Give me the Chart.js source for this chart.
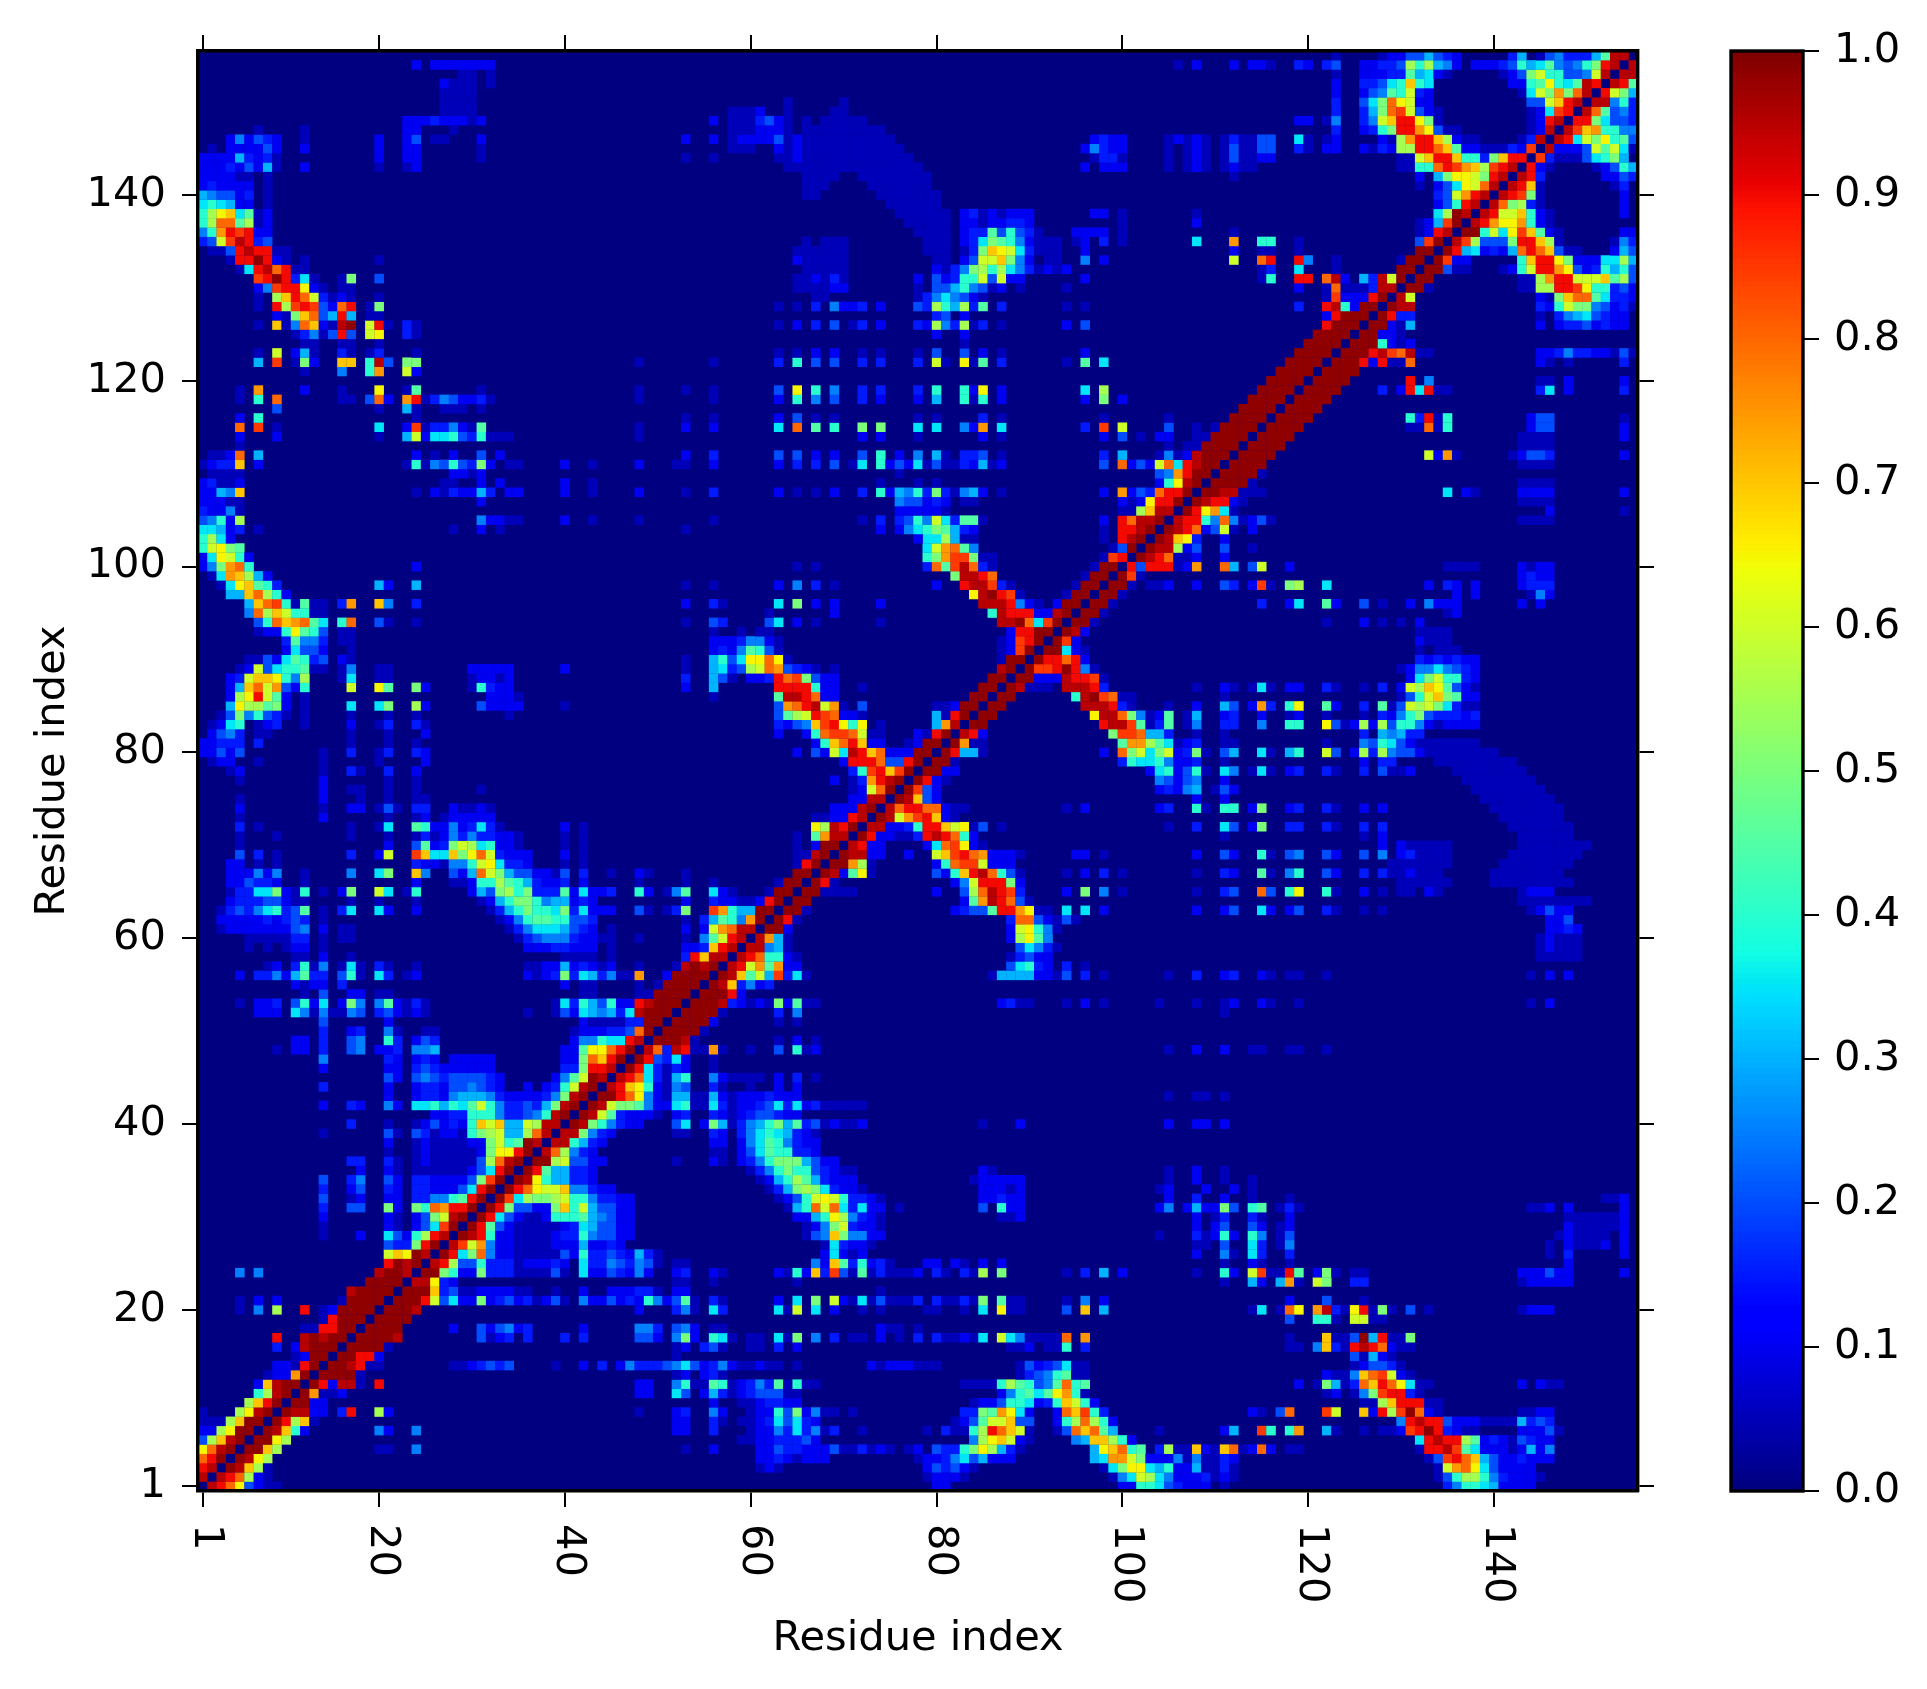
<!DOCTYPE html>
<html><head><meta charset="utf-8">
<style>html,body{margin:0;padding:0;background:#fff;width:1927px;height:1689px;overflow:hidden}
canvas{position:absolute;top:0}#m{left:0}#c{left:1700px}</style>
<script src="https://cdn.jsdelivr.net/npm/chart.js@4"></script></head>
<body><canvas id="m" width="1927" height="1689"></canvas><canvas id="c" width="227" height="1689"></canvas>
<script>
const axisLabel="Residue index";
const residueTicks=[1,20,40,60,80,100,120,140];
const residueCount=155;
const colorTicks=[0,0.1,0.2,0.3,0.4,0.5,0.6,0.7,0.8,0.9,1];
// value codes: digits = tenths, a..j = 0.05,0.15..0.95, A = 0.98, '.' = background. Each entry: [row, first column, codes]
const valueCodes={a:.05,b:.15,c:.25,d:.35,e:.45,f:.55,g:.65,h:.75,i:.85,j:.95,A:.985};
const hazeRows=[[81,132,"aaaaaaa"],[80,133,"aaaaaaaa"],[79,134,"aaaaaaaaa"],[78,136,"aaaaaaaa"],[77,137,"aaaaaaaa"],[76,138,"aaaaaaaa"],[75,139,"aaaaaaaa"],[74,140,"aaaaaaaa"],[73,141,"aaaaaaa"],[72,142,"aaaaaaa"],[71,143,"aaaaaa"],[70,130,"aaaaaa.......aaaaaaaa"],[69,130,"aaaaaa......aaaaaaaa"],[68,129,"aaaaaaa.....aaaaaaaa"],[67,128,"aaaaaaa.....aaaaaaaa"],[66,130,"aaaaaa....aaaaaaaaa"],[64,143,"aaaaaaaa"],[60,145,"a1aaa"],[59,145,"a1aaa"],[58,145,"aaaaa"],[66,84,"...."],
[92,132,"1aaa"],[93,132,"aaaa"],[105,143,"aaaa"],[107,143,"aaaa"],[109,143,"aaaa"],[111,143,"aaaa"],[113,143,"aaaa"],[114,143,"aaaa"]];
const bandRows=[[1,2,"j98g21aa"],[2,3,"j98f1a"],[3,4,"Aj7fa"],[4,5,"Ajgf"],[5,6,"AA7f"],[6,7,"AAgf"],[7,8,"Aj741"],[8,9,"A9f7a"],[9,10,"Ajj11.b9..f1"],[10,11,"AA11"],[11,12,"Ahaa1"],[12,13,"A91jja.9"],[13,14,"AAAAa"],[14,15,"AAj9aa"],[15,16,"AA991"],[16,17,"AAAAa"],[17,18,"AAAAj"],[18,19,"AAAA"],[18,28,"1..212c1b"],[18,42,"1"],[18,48,"ccb.2"],[19,20,"AAAA"],[20,21,"AAAj"],[20,48,"1"],[20,52,"1"],
[21,22,"AAA962d1151b21ba12a.c1121b14c1a2"],[22,23,"AAA7b2aa1111aa..a..1..111bba.1"],[23,24,"jjgb1"],[24,25,"AA54115bbbaaaa2a.d112b1c1..1"],[25,26,"j9f224bbba111b1.dbbc2bc2a.1"],[26,27,"A9d58c11aaaaa214bb2b13ba"],[27,28,"ji6hc11aaaa111311b1"],[28,29,"Aj9411aaaa1bb4c2211"],[29,30,"A9e21aaaaa1bd32211"],[30,31,"A9d21aa1444e3c211"],[31,32,"A952211574632211"],[32,33,"Aidf55f644cbb11"],[33,34,"A98g667ccb11"],[34,35,"Ajg433bb1"],[35,36,"A9e33bb1"],[36,37,"AAf62211"],[37,38,"j8fcb1"],[38,39,"jj43b1"],[39,40,"jj5cb1"],[40,41,"Aj54cb11"],[41,42,"Aj6eb111a.a"],[42,43,"Aj655ec11d"],[43,44,"AA98gc1a2"],[44,45,"j97g41a2"],[45,46,"j98dba3"],[46,47,"A9dba1"],[47,48,"A92bd"],[48,49,"j8bj"],[49,50,"AAA"],[50,51,"AAAA"],[51,52,"AAAA"],[52,53,"AAAA"],
[5,20,"aa..b"],[7,20,"c1..c"],[5,24,"c"],[7,24,"c"],[9,48,"a...1"],[11,48,"11...3"],[12,48,"11...c"],[14,28,"aa1b2b2"],[14,39,"a..1.b.1cbbb22ba3"],[17,31,"2a1b.b"],[17,40,"b.b.....221.c"]];
const midLowRows=[[1,80,"11"],[1,100,"1144d"],[2,79,"a111a"],[2,99,"acd6fd"],[3,61,"a1a"],[3,79,"12b21a"],[3,98,"ad5ggd3"],[4,61,"11b1a111"],[4,78,"a11bcd23111"],[4,97,"3dhh6511"],[5,53,"a..1"],[5,61,"112bb1112aaba1a.a1"],[5,80,"2bb45gf3ba"],[5,97,"3g784e"],[6,59,"aa11bbb21"],[6,84,"cfg761a"],[6,95,"c377f41"],[7,52,"11..b...a11cbdbcab"],[7,72,"a"],[7,79,"a.baa4f9876a"],[7,93,"a2878e3"],[8,52,"11..ba.aa1bd2db1"],[8,82,"a12e66722"],[8,93,"14f8f41"],[9,52,"1b..c1..a114251caa.a"],[9,83,"bb5ehgd1"],[9,93,"187i4b"],[10,56,"1..aa1bb11"],[10,84,"a11244d1b47641"],[11,52,"d2.13ba1b222aa"],[11,87,"1c4edegh4a"],[12,52,"c4aae4a1bcbea4aa"],[12,83,"aaaa4fe42ce84e"],[13,52,"a1.1ba"],[13,89,"ab2c4eaa"],[14,52,"cd21bc1aa1aa.a"],[14,73,"1a111aaa"],[14,89,"a21b2daa"],[15,52,"a"],[16,52,"a1.b2a"],[16,60,"aa.b.1"],[16,88,"aa1.aa4.b"],
[17,52,"c51.4da.aa.da5.c.b.aa.1.a.b.baa1ad.6dcaaaa8.h"],[18,52,"2c1.aa"],[18,74,"1aa.a"],[20,52,"bca.db"],[20,63,"da6.d.1"],[20,72,"a.a"],[20,79,"aa..a.d.gaa"],[20,94,"2.7.3"],[21,52,"2ea.ba"],[21,63,"1.d.5.61ada2aaab.baaba5.eaa"],[21,94,"a.c.1"],[22,52,"11"],[22,74,"a"],[23,52,"aa..a"],[23,65,"a"],[24,52,"1b..1a"],[24,63,"1a417bi2aeabaaa1.ba.baf.5"],[24,94,"a.b.3.1"],[25,52,"aa"],[25,67,"c17eb41ba"],[25,79,"11.1a.1.1"],[26,68,"1d1a1"],[27,68,"adb11a"],[28,66,"a2c75cc11"],[29,66,"a1c56b11a"],[30,65,"1134gfcb1a"],[30,87,"aa1"],[31,64,"a34868dbd11.a"],[31,85,"2.411"],[32,63,"a1246g64bb1a"],[32,85,"11b11"],[33,62,"ab35f5db11a"],[33,85,"111a1"],[34,61,"a134fe3b111"],[34,84,"a11111"],[35,60,"abc45442b1aa"],[35,85,"1a"],[36,52,"a...1a.1bc45553211"],[37,56,"aa.12de44bb1"],[38,56,"11.1cde4cb11"],[39,52,"aa..b1.bcd4d3b1a"],[40,52,"2d.153abc3453eb2a1aa1"],[40,85,"a...1"],[41,52,"1b..b1a1b22b11"],[42,52,"d4aadba11b2dbd1baaaaa"],[43,52,"33aa31a111b111"],[44,52,"c2..ba..a..1.1"],[45,52,"34..c1aaaa.1.b.a"],[46,52,"b1..a"],[47,52,"d1..a"],[48,52,"j9aaha..a..2.4a1"],[49,53,"ja"],[49,63,"a.1.a"],[50,55,"a"],[51,56,"1"],[51,63,"a.a"],[52,57,"a"],[52,63,"b.c"],[53,54,"AAAjb1a1a51eaa"],[53,87,"1baa"],[53,94,"a.1.a"]];
const farLowRows=[[1,105,"2b111"],[1,111,"a"],[1,135,"bc44d31111"],[2,105,"c111ba1a"],[2,134,"a24ff4cb111a"],[3,105,"4113aaba"],[3,134,"a6h8gd21111"],[4,105,"1cacaab1"],[4,133,"a2i9873211b111"],[5,104,"bfaa71a78a181.aa"],[5,132,"a99jied111a131c"],[6,132,"d9j99fe1b1a2b11"],[7,104,"a"],[7,111,"13"],[7,115,"i4.4h"],[7,122,"3a"],[7,126,"a.aa1"],[7,131,"i9A9b1aa"],[7,143,"1112a"],[8,130,"c9j992111aaaa3b2b"],[9,114,"1a.28"],[9,122,"i6..719fiA81a"],[9,143,"aa11"],[10,126,"aaf7999aa"],[11,122,"a1.ac5i99ba"],[12,119,"1.a53ab8798gdaa"],[12,143,"1.1aa"],[13,122,"1aac78i61a"],[14,125,"a122ba"],[15,125,"2a31a"],[16,118,"aa"],[16,121,"c7ba9j981aa"],[17,118,"a"],[17,122,"7aa2A39aa5"],[19,118,"2"],[19,121,"44a"],[19,125,"66aa"],[20,114,"ad.a8g.hjbag9a5a.2.a"],[20,143,"a111"],[21,118,"1"],[21,122,"2"],[21,126,"a"],[23,111,"a"],[23,114,"31.3ha.65..bb"],[23,143,"a11111"],[24,108,"a"],[24,111,"41.6iaa9e.15a.aa"],[24,143,"111211"],[24,154,"1"],[25,111,"a..1a..a"],[25,148,"1"],[26,108,"1..ca.db..b"],[26,146,"a.b"],[26,154,"1"],[27,108,"aa.2..db.ac"],[27,146,"a.1aaa1.1"],[28,104,"a...ba141.4c.a2"],[28,147,"a1aaaa.1"],[29,108,"1.12..21.a1"],[29,148,"1aaaaa1"],[30,108,"1.ab..ba..1"],[30,148,"aaaaaa1"],[31,104,"1c.131152.4e.aba"],[31,144,"aa1.1"],[31,154,"1"],[32,105,"1..b..1"],[32,114,"a"],[32,118,"a"],[32,152,"aa1"],[33,104,"a1...1..1"],[33,114,"a"],[34,105,"a..1..a..a"],[35,105,"a..1..a"],[40,105,"1..11.1"],[43,105,"a..aa.a"],[48,105,"a..1..1..aa"],[48,118,"aa"],[48,122,"a"],[52,111,"a"]];
const ridgeRows=[[54,55,"AAA91"],[55,56,"Aj7bc1b"],[56,57,"Aj7e63ibda"],[56,86,"a333311a2.b.a"],[57,58,"j96heh11"],[57,88,"2d4b1"],[57,94,"b.a"],[58,59,"j98441a"],[58,88,"ab211"],[59,60,"jjc3a"],[59,89,"2dcba"],[60,61,"jh3a"],[60,88,"1fgec"],[61,62,"AA1"],[61,88,"16g4ca"],[62,63,"A9a"],[62,88,"b8821a2a"],[63,64,"AAa"],[63,82,"1b22e99hgaa"],[63,94,"d.d.1"],[64,65,"AA"],[64,83,"1ehj982a"],[65,66,"AAaaaa"],[65,80,"1..2f8j9ib"],[65,94,"1.5.c.a"],[66,67,"A9a"],[66,82,"1c699951"],[67,68,"Aj1ega"],[67,80,"21479j842a"],[67,94,"a.1.b.a"],[68,69,"AAhfa"],[68,80,"148ii6111"],[69,70,"Ajj11"],[69,77,"1"],[69,80,"67i98h111a"],[69,95,"11.a"],[70,71,"j911"],[70,79,"1d8ig1a"],[71,72,"A911aab"],[71,79,"9j9841"],[72,73,"jj11b4"],[72,79,"9976ga2"],[72,87,"a"],[73,74,"Aj6hi971a"],[74,75,"j899881aa"],[74,94,"a.1"],[75,76,"Aj721"],[76,77,"Ai21"],[77,78,"A91a"],[78,79,"AA11"],[79,80,"AAa"],[79,100,"b4de"],[80,81,"A933a"],[80,98,"1.856d5"],[81,82,"Ahaa"],[81,100,"ehh6e"],[82,83,"j91"],[82,99,"5ii8dc"],[83,84,"AA"],[83,98,"9jjie1b"],[84,85,"AA"],[84,97,"gjj85ca1"],[85,86,"AA"],[85,96,"jjj9ba"],[86,87,"AA"],[86,95,"4jAi8aa"],[87,88,"Aj"],[87,90,"aaa"],[87,94,"jjj9b"],[88,89,"AA111"],[88,94,"j99ia"],[89,90,"Aii9A9ca"],[90,91,"A99891"],[91,92,"AAd1a"],[92,93,"Ai1"],[93,94,"Aj1"],[94,95,"AAa"],[95,96,"AAa"],[96,97,"AAa"],[97,98,"AAa"],[98,99,"AAa"],[99,100,"Aia"],[100,101,"929"],[101,102,"Aj"],[102,103,"A"]];
const farMidRows=[[53,104,"a...a..a1..1a..a"],[53,144,"a.1"],[56,105,"a..b..1b..1a.aa..a"],[56,144,"a.1.1"],[61,146,"11b1"],[62,146,"112"],[63,108,"1..12..d1.12..ba"],[63,126,"a.a"],[63,144,"a1211"],[65,108,"a..b2..82.4g..4a"],[65,126,"1.a"],[65,130,"aa.1a"],[65,143,"a111"],[67,108,"a..b1..ea.c4..21"],[67,126,"b.b.a1"],[69,108,"1..21..4a.2c..21"],[69,126,"2.c.1b"],[70,128,"1.1"],[71,111,"a"],[71,126,"a.1"],[72,105,"a..b..d2.15..bb..ba"],[72,126,"b.b"],[74,104,"1b..4a.44.15..1b..ba"],[74,126,"1.1"],[75,108,"1..1"],[76,104,"1b1c3.a21"],[77,104,"c212c..1"],[78,103,"1d4124a.dc.ada.1b..ba"],[78,126,"b.2aa1"],[79,103,"d4c11b..a"],[79,126,"1.bb"],[80,103,"d561b5a.23..da.34..62.1fbfc221"],[81,103,"feda1b..aa"],[81,122,"a"],[81,126,"c24d21a"],[82,103,"33b..a..a"],[82,126,"b.3c3bb"],[83,103,"abe.ac..bb..c..44..g2a1f1f244c1a1111"],[84,103,"a1e.a3..1b..1..a1..a"],[84,126,"a.b1c452bbb1b"],[85,105,"a..1..32.1hb.4g..e1..b.ea26f65dbaa"],[86,111,"a"],[86,130,"a24675e11"],[87,108,"a..1a.ada.11..ba..a.b.16f7ge21a"],[88,131,"1d5644b1"],[89,130,"a1ccdc2b1"],[90,132,"b1b1b11"],[91,132,"a.aaa"],[92,132,"1"],[94,122,"a"],[94,126,"1.a.a.1"],[95,135,"a1"],[96,115,"b..1d..e1..2.a..1.c111"],[96,143,"1.1"],[97,136,"1.1"],[97,144,"ac1"],[98,103,"aa1..1..2b.1ia.5f..d"],[98,133,"1.b1.1"],[98,143,"1bbb"],[99,143,"1b11"],[100,104,"99a1h..83.26..1"],[100,135,"aaaa"],[100,143,"1a11"],[101,103,"j98aa1..1"],[102,103,"Ajjf12..2..a"],[103,104,"Aj7gb..1"],[104,105,"Aj98126a.1"]];
const topRows=[[105,106,"j994c8ca12a"],[106,107,"A9ghda"],[107,108,"Aj991a"],[108,109,"AAjjaaa"],[108,135,"d.1a"],[108,143,"1111"],[109,110,"AAAAa"],[110,111,"AAAAa"],[111,112,"AAAA"],[112,113,"AAAA"],[112,133,"61ha"],[112,142,"a122"],[113,114,"AAAA"],[114,115,"AAAA"],[115,116,"AAAA"],[115,131,"aa8a4"],[115,144,"12"],[116,117,"AAAA"],[116,131,"4b9a4"],[116,144,"12"],[117,118,"AAAA"],[118,119,"AAAA"],[119,120,"AAAA"],[119,128,"b.19d9aa"],[119,145,"bd.1"],[119,154,"b"],[120,121,"AAAA"],[120,131,"9.c"],[120,145,"aa.1"],[120,154,"1"],[121,122,"AAAA"],[122,123,"AAA919aa8"],[122,145,"1a.a"],[122,154,"b"],[123,124,"AAA9ji8jaa"],[123,145,"11bcbb11a2a"],[124,125,"AAA41a1"],[125,126,"AA11a"],[126,127,"AA1a3"],[126,145,"1.1bb21b11"],[127,128,"A9bb"],[127,145,"a.bc3d2b11"],[128,129,"Ajj"],[128,145,"b14655c21ba"],[129,130,"j6"],[129,145,"1a5788edbb1"],[130,131,"AAa"],[130,143,"aaff99ig44b21"],[131,132,"AA"],[131,143,"aafh996667ef2"],[132,133,"AA2aa"],[132,141,"a14699hg21b4342"],[133,134,"Ai11"],[133,143,"4799g5111ddf3"],[134,135,"A93d1b1389872aa...132"],[135,136,"jif2225997fa"],[135,153,"acb"],[136,137,"AA46dgi7e1a"],[136,154,"11"],[137,138,"j9hggh41a"],[138,139,"j966741a"],[138,154,"1"],[139,140,"j85fba"],[139,154,"1"],[140,141,"j9i5a"],[140,154,"1"],[141,142,"j97a"],[141,153,"ab"],[142,143,"j9b"],[142,152,"112b"],[143,144,"91a"],[143,151,"a1243"],[144,145,"ibaaa2d453"],[145,146,"j11126e6da"],[146,147,"j9d65g4e2"],[147,148,"ji7h44cc"],[148,149,"995d22b"],[149,150,"j8e2cb"],[150,151,"jjc4b"],[151,152,"9653"],[152,153,"j9e"],[153,154,"jj"],[154,155,"j"],[106,146,"1"],[108,146,"1"],[112,146,"b"],[115,146,"2"],[116,146,"2"],[106,154,"a"],[108,154,"1"],[112,154,"1"],[114,154,"1"],[115,154,"1"],[116,154,"a"]];

function lerp(stops,v){for(let i=1;i<stops.length;i++){if(v<=stops[i][0]){const a=stops[i-1],b=stops[i];return a[1]+(b[1]-a[1])*(v-a[0])/(b[0]-a[0]);}}return stops[stops.length-1][1];}
const jetR=[[0,0],[.35,0],[.66,1],[.89,1],[1,.5]],jetG=[[0,0],[.125,0],[.375,1],[.64,1],[.91,0],[1,0]],jetB=[[0,.5],[.11,1],[.34,1],[.65,0],[1,0]];
function jet(v){return `rgb(${Math.round(255*lerp(jetR,v))},${Math.round(255*lerp(jetG,v))},${Math.round(255*lerp(jetB,v))})`;}

const cells=new Map();
function put(r,c,v){cells.set(r+"_"+c,{x:c,y:r,v});cells.set(c+"_"+r,{x:r,y:c,v});}
[hazeRows,bandRows,midLowRows,farLowRows,ridgeRows,farMidRows,topRows].forEach(list=>list.forEach(([row,col,codes])=>{
  [...codes].forEach((ch,k)=>{if(ch==='.')return;const v=ch in valueCodes?valueCodes[ch]:Number(ch)/10;if(col+k<=residueCount)put(row,col+k,v);});
}));
const points=[...cells.values()];
const FONT='"DejaVu Sans"';
const FS=41.6;
const frame={display:true,width:3.4,color:'#000',z:2};
const tickGrid={drawOnChartArea:false,drawTicks:true,tickLength:16,tickWidth:2,tickColor:'#000',color:'#000',lineWidth:2};
const setTicks=s=>{s.ticks=residueTicks.map(v=>({value:v,label:String(v)}));};
const rotatedLabels={id:'rotatedLabels',afterDraw(ch){const c=ch.ctx,s=ch.scales.x;c.save();c.fillStyle='#000';c.font=FS+'px '+FONT;c.textAlign='left';c.textBaseline='middle';
  residueTicks.forEach(v=>{c.save();c.translate(s.getPixelForValue(v)+3,1524);c.rotate(Math.PI/2);c.fillText(String(v),0,0);c.restore();});c.restore();}};
const navy={id:'navy',beforeDatasetsDraw(ch){const a=ch.chartArea,c=ch.ctx;c.save();c.fillStyle=jet(0);c.fillRect(a.left,a.top,a.right-a.left,a.bottom-a.top);c.restore();}};
new Chart(document.getElementById('m'),{type:'scatter',plugins:[navy,rotatedLabels],
 data:{datasets:[{data:points,parsing:false,normalized:false,pointStyle:'rect',pointRadius:6.75,pointHoverRadius:6.75,pointBorderWidth:0,backgroundColor:points.map(p=>jet(p.v)),pointBackgroundColor:points.map(p=>jet(p.v)),showLine:false}]},
 options:{responsive:false,animation:false,devicePixelRatio:1,events:[],layout:{padding:0},plugins:{legend:{display:false},tooltip:{enabled:false},title:{display:false}},
  scales:{
   x:{type:'linear',position:'bottom',min:.5,max:155.5,afterBuildTicks:setTicks,afterFit:s=>{s.height=198;},grid:tickGrid,border:frame,ticks:{display:false},title:{display:true,text:axisLabel,color:'#000',font:{family:FONT,size:FS},padding:{top:0,bottom:25}}},
   x2:{type:'linear',position:'top',min:.5,max:155.5,afterBuildTicks:setTicks,afterFit:s=>{s.height=51;},grid:tickGrid,border:frame,ticks:{display:false}},
   y:{type:'linear',position:'left',min:.5,max:155.5,afterBuildTicks:setTicks,afterFit:s=>{s.width=198;},grid:tickGrid,border:frame,ticks:{color:'#000',autoSkip:false,font:{family:FONT,size:FS},padding:16,callback:v=>String(v)},title:{display:true,text:axisLabel,color:'#000',font:{family:FONT,size:FS},padding:{top:28,bottom:0}}},
   y2:{type:'linear',position:'right',min:.5,max:155.5,afterBuildTicks:setTicks,afterFit:s=>{s.width=289;},grid:tickGrid,border:frame,ticks:{display:false}}
  }}});

const colorLevels=[];for(let i=0;i<256;i++)colorLevels.push(i/255);
const colorStep=colorLevels.map(()=>1/256);
const cbFrame={id:'cbFrame',afterDraw(ch){const a=ch.chartArea,c=ch.ctx;c.save();c.strokeStyle='#000';c.lineWidth=3.4;c.strokeRect(a.left,a.top,a.right-a.left,a.bottom-a.top);c.restore();}};
new Chart(document.getElementById('c'),{type:'bar',plugins:[cbFrame],
 data:{labels:['colour'],datasets:colorLevels.map((v,i)=>({data:[colorStep[i]],backgroundColor:jet(v),borderWidth:0,barPercentage:1,categoryPercentage:1,inflateAmount:.4}))},
 options:{responsive:false,animation:false,devicePixelRatio:1,events:[],layout:{padding:{left:31,top:51,bottom:198,right:0}},plugins:{legend:{display:false},tooltip:{enabled:false}},
  scales:{x:{display:false,stacked:true},
   y:{type:'linear',position:'right',stacked:true,min:0,max:1,afterBuildTicks:s=>{s.ticks=colorTicks.map(v=>({value:v}));},afterFit:s=>{s.width=124;},grid:tickGrid,border:{display:false},ticks:{color:'#000',autoSkip:false,font:{family:FONT,size:FS},padding:15,callback:v=>v.toFixed(1)}}}}});
</script></body></html>
